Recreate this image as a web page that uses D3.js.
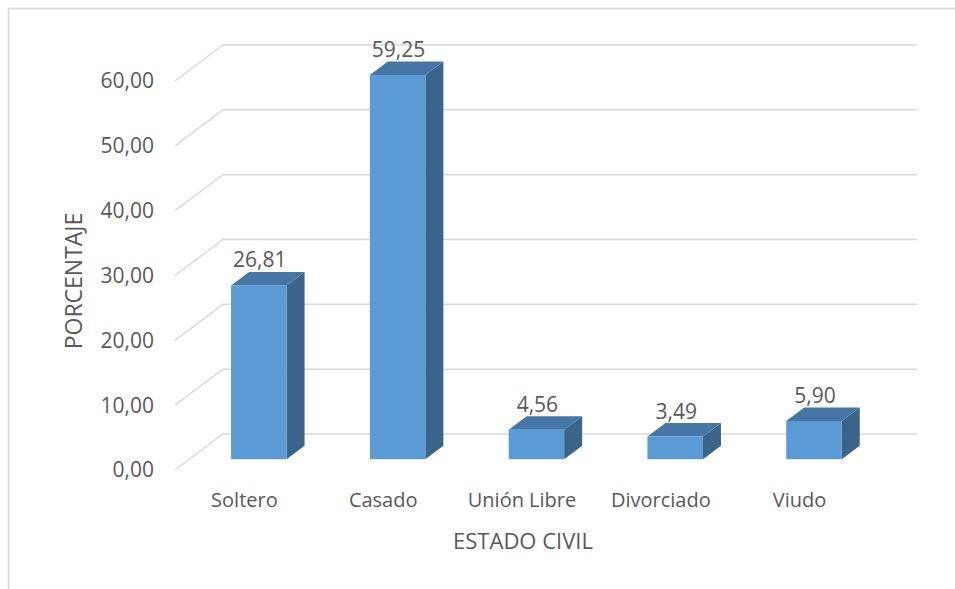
<!DOCTYPE html>
<html>
<head>
<meta charset="utf-8">
<script src="https://cdn.jsdelivr.net/npm/d3@7"></script>
<style>
  html, body { margin: 0; padding: 0; background: #fff; }
  svg { display: block; }
  text { font-family: "Open Sans", "Noto Sans", sans-serif; fill: #595959; }
</style>
</head>
<body>
<svg id="chart" width="955" height="589"></svg>
<script>
// ---- data ----
const categories = ["Soltero", "Casado", "Unión Libre", "Divorciado", "Viudo"];
const values = [26.81, 59.25, 4.56, 3.49, 5.90];
const tickValues = [0, 10, 20, 30, 40, 50, 60];
const xTitle = "ESTADO CIVIL";
const yTitle = "PORCENTAJE";

const svg = d3.select("#chart");
const W = 955, H = 589;

// chart border
svg.append("path")
  .attr("d", `M8.5,${H} L8.5,8.5 L${W},8.5`)
  .attr("fill", "none").attr("stroke", "#d9d9d9").attr("stroke-width", 1.5);

// 3D box: front plane and depth offset
const depthX = 48, depthY = -36;
const x = d3.scaleBand().domain(categories).range([175, 869]).paddingInner(0.6).paddingOuter(0.3);
const y = d3.scaleLinear().domain([0, 60]).range([470, 81]);
const fmt = v => d3.format(".2f")(v).replace(".", ",");

// gridlines: diagonal on side wall + horizontal on back wall
const grid = svg.append("g");
tickValues.forEach(t => {
  const yf = y(t), yb = y(t) + depthY;
  grid.append("path")
    .attr("d", `M175,${yf} L${175 + depthX},${yb} L${869 + depthX},${yb}`)
    .attr("fill", "none").attr("stroke", "#d9d9d9").attr("stroke-width", 1.5);
});

// y tick labels
svg.append("g").selectAll("text").data(tickValues).join("text")
  .attr("x", 154).attr("y", d => y(d)).attr("dy", "0.35em")
  .attr("text-anchor", "end").attr("font-size", 21)
  .text(d => fmt(d));

// bars
const t0 = 0.3, bd = 0.375; // bar front depth fraction, bar depth fraction
const ox = depthX * t0, oy = depthY * t0;
const bx = depthX * bd, by = depthY * bd;
const bars = svg.append("g");
categories.forEach((c, i) => {
  const x0 = x(c) + ox, x1 = x0 + x.bandwidth();
  const yb = y(0) + oy, yt = y(values[i]) + oy;
  // side
  bars.append("path")
    .attr("d", `M${x1},${yb} L${x1 + bx},${yb + by} L${x1 + bx},${yt + by} L${x1},${yt} Z`)
    .attr("fill", "#3a6489");
  // top
  bars.append("path")
    .attr("d", `M${x0},${yt} L${x0 + bx},${yt + by} L${x1 + bx},${yt + by} L${x1},${yt} Z`)
    .attr("fill", "#4676a6");
  // front
  bars.append("rect")
    .attr("x", x0).attr("y", yt).attr("width", x1 - x0).attr("height", yb - yt)
    .attr("fill", "#5b9bd5");
  // value label
  bars.append("text")
    .attr("x", (x0 + x1) / 2 + 1).attr("y", yt - 18)
    .attr("text-anchor", "middle").attr("font-size", 21)
    .text(fmt(values[i]));
});

// category labels
svg.append("g").selectAll("text").data(categories).join("text")
  .attr("x", d => x(d) + x.bandwidth() / 2).attr("y", 507)
  .attr("text-anchor", "middle").attr("font-size", 20)
  .text(d => d);

// axis titles
svg.append("text").attr("x", 523).attr("y", 549)
  .attr("text-anchor", "middle").attr("font-size", 22).text(xTitle);
svg.append("text").attr("transform", "translate(82,281) rotate(-90)")
  .attr("text-anchor", "middle").attr("font-size", 23).text(yTitle);
</script>
</body>
</html>
